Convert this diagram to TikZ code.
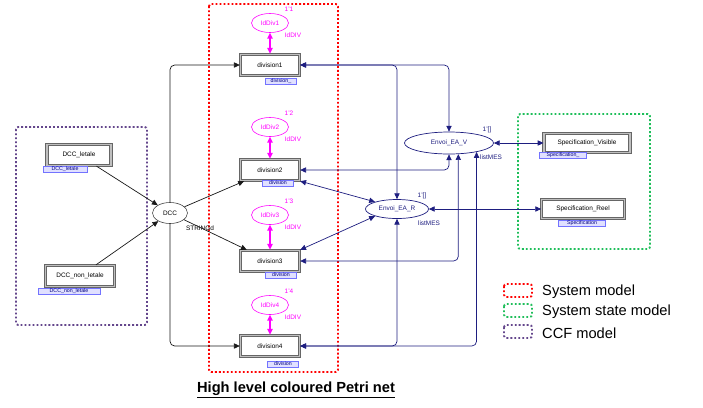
\documentclass[tikz,border=0pt]{standalone}
\usepackage[usenames,dvipsnames,x11names,rgb]{xcolor}
\usepackage{tikz}
\usepackage{fontspec}
\setmainfont{Liberation Sans}
\usetikzlibrary{calc, shapes.geometric, arrows.meta}
\definecolor{arcblue}{RGB}{30,30,128}
\definecolor{placepink}{RGB}{255,0,255}
\definecolor{stategreen}{RGB}{30,190,90}
\definecolor{ccfpurple}{RGB}{100,70,140}

\begin{document}
\begin{tikzpicture}[x=0.03cm, y=-0.03cm, >={Triangle[length=5pt,width=4.5pt]},
        trans/.style={draw=black!60, double=gray!50, double distance=1.2pt, line width=0.85pt, fill=white, minimum width=1.78cm, minimum height=0.64cm, inner sep=1pt, font=\fontsize{5.5}{6}\selectfont},
        place/.style={ellipse, draw=placepink, text=placepink, line width=0.5pt, minimum width=1.11cm, minimum height=0.57cm, inner sep=0pt, font=\fontsize{5.5}{6}\selectfont},
        bplace/.style={ellipse, draw=arcblue, text=arcblue, line width=0.6pt, inner sep=0pt, font=\fontsize{5.5}{6}\selectfont},
        tag/.style={draw=blue!55, fill=blue!12, text=blue!50!black, inner sep=0.3pt, minimum height=0.17cm, font=\fontsize{4.5}{5}\selectfont},
        insc/.style={inner sep=0pt, font=\fontsize{5.5}{6}\selectfont},
        barc/.style={draw=arcblue, line width=0.6pt, rounded corners=4pt, <->},
        karc/.style={draw=gray!20!black, line width=0.6pt, rounded corners=4pt, ->},
        zone/.style={line width=1.6pt, dash pattern=on 1.6pt off 1.8pt, rounded corners=2pt},
        legtext/.style={anchor=west, inner sep=0pt, font=\fontsize{12.5}{14}\selectfont}]
        \useasboundingbox (0,0) rectangle (703,407);

        % model zones
        \draw[zone, red] (209,4) rectangle (338,372);
        \draw[zone, ccfpurple] (16,127) rectangle (147,325);
        \draw[zone, stategreen] (518,114) rectangle (650,249);

        % divisions and their identity places
        \foreach \i/\y/\py in {1/65/23, 2/170/127, 3/261/215, 4/346/305} {
            \node[trans] (d\i) at (270,\y) {division\i};
            \node[place] (p\i) at (270,\py) {IdDiv\i};
            \node[insc, text=placepink] (m\i) at (289,{\py-14}) {1'\i};
            \node[insc, text=placepink] (t\i) at (293,{\py+12}) {IdDIV};
            \draw[placepink, line width=1.2pt, <->] (p\i) -- (d\i);
        }
        \node[tag, minimum width=0.93cm] (d1tag) at (281,81) {division\_};
        \node[tag, minimum width=0.93cm] (d2tag) at (278,183) {division};
        \node[tag, minimum width=0.93cm] (d3tag) at (281,275) {division};
        \node[tag, minimum width=0.93cm] (d4tag) at (283,364) {division};

        % CCF part
        \node[trans, minimum width=1.93cm] (dccl) at (79,155) {DCC\_letale};
        \node[trans, minimum width=2.08cm] (dccn) at (80,276) {DCC\_non\_letale};
        \node[tag, minimum width=1.32cm] (dccltag) at (65,169) {DCC\_letale};
        \node[tag, minimum width=1.86cm] (dccntag) at (69,291) {DCC\_non\_letale};
        \node[ellipse, draw=gray!50!black, line width=0.5pt, minimum width=1.05cm, minimum height=0.63cm, inner sep=0pt, font=\fontsize{5.5}{6}\selectfont] (dcc) at (170,213) {DCC};
        \node[insc] (dcctype) at (200,228) {STRINGd};

        \draw[karc] (dccl) -- (dcc);
        \draw[karc] (dccn) -- (dcc);
        \draw[karc] (dcc) -- (d2);
        \draw[karc] (dcc) -- (d3);
        \draw[karc] (dcc.north) |- (d1.west);
        \draw[karc] (dcc.south) |- (d4.west);

        % sending places and specifications
        \node[bplace, minimum width=2.67cm, minimum height=0.66cm] (ev) at (449,143) {Envoi\_EA\_V};
        \node[bplace, minimum width=1.89cm, minimum height=0.57cm] (er) at (397,209) {Envoi\_EA\_R};
        \node[insc, text=arcblue] (evm) at (487,130) {1'[]};
        \node[insc, text=arcblue] (evt) at (491,157) {listMES};
        \node[insc, text=arcblue] (erm) at (422,196) {1'[]};
        \node[insc, text=arcblue] (ert) at (429,223) {listMES};

        \node[trans, minimum width=2.58cm, minimum height=0.58cm] (sv) at (587,143) {Specification\_Visible};
        \node[trans, minimum width=2.48cm, minimum height=0.58cm] (sr) at (583,209) {Specification\_Reel};
        \node[tag, minimum width=1.41cm] (svtag) at (563,155) {Specification\_};
        \node[tag, minimum width=1.41cm] (srtag) at (582,223) {Specification};

        \draw[barc] (d1.east) -| (ev.north);
        \draw[barc] (d1.east) -| (er.north);
        \draw[barc] (d2.east) -| (ev.south);
        \draw[barc] (d3.east) -| (ev.-50);
        \draw[barc] (d4.east) -| (ev.-18);
        \draw[barc] (d4.east) -| (er.south);
        \draw[barc] (d2.south east) -- (er.162);
        \draw[barc] (d3.north east) -- (er.198);
        \draw[barc] (ev) -- (sv);
        \draw[barc] (er) -- (sr);

        % legend
        \draw[zone, red] (504,284) rectangle (532,297);
        \draw[zone, stategreen] (504,304) rectangle (532,317);
        \draw[zone, ccfpurple] (504,325) rectangle (532,338);
        \node[legtext] (sysmodel) at (542,292) {System model};
        \node[legtext] (statemodel) at (542,312) {System state model};
        \node[legtext] (ccfmodel) at (542,333) {CCF model};

        \node[inner sep=0pt, font=\bfseries\fontsize{12.5}{14}\selectfont] (title) at (296,390) {\underline{High level coloured Petri net}};
    \end{tikzpicture}
\end{document}
